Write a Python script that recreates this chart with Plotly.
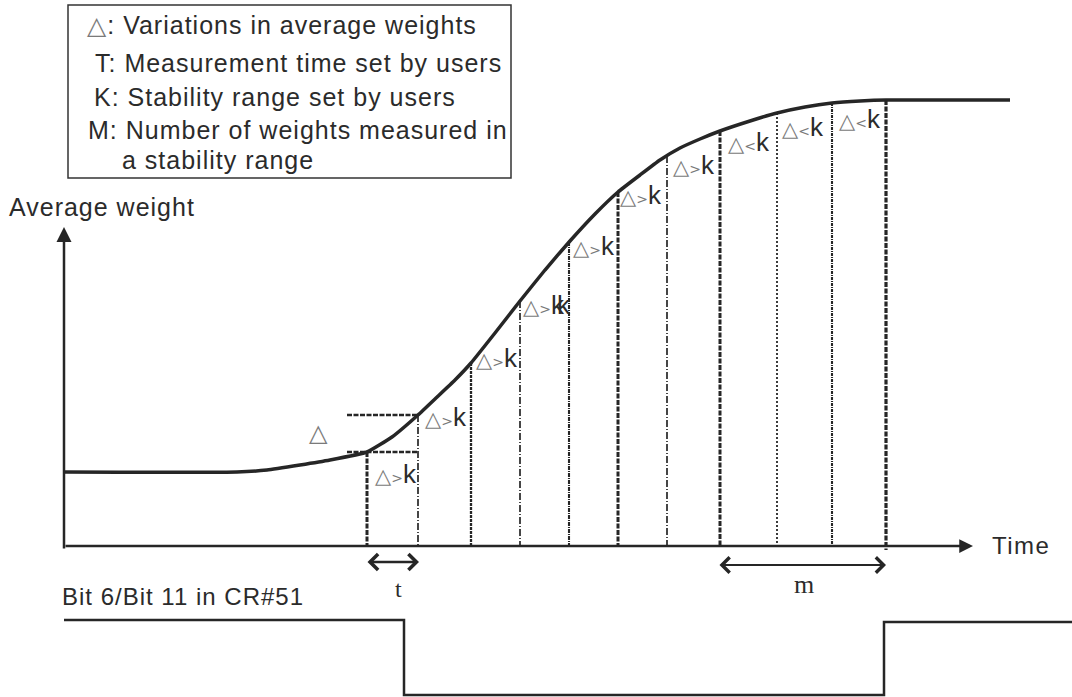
import plotly.graph_objects as go

W, H = 1072, 697

# ---- diagram data (screen-like units: time to the right, weight drawn upward) ----
curve_t = [64, 237, 267, 300, 330, 367, 392, 418, 436, 455, 471, 495, 520, 545, 570, 595,
           618, 640, 660, 680, 700, 720, 750, 777, 805, 832, 860, 886, 1010]
curve_w = [472, 472, 470, 465, 460, 452, 437, 415, 398, 380, 363, 333, 301, 270, 241, 214,
           192, 175, 160, 148, 139, 131, 121, 113, 107, 103, 101, 100, 100]

sample_t = [367, 418, 471, 520, 569, 618, 667, 720, 777, 832, 886]
sample_w = [452, 415, 363, 301, 242, 192, 156, 131, 113, 103, 100]

label_t = [396, 446, 497, 547, 594, 641, 694, 749, 803, 860]
label_w = [474, 417, 358, 305, 246, 195, 165, 142, 127, 119]
label_sign = [">", ">", ">", ">", ">", ">", ">", "<", "<", "<"]

level_w = [452, 415]
level_t = [347, 418]

signal_t = [64, 404, 404, 884, 884, 1072]
signal_v = [620, 620, 695, 695, 622, 622]

axis_t0, axis_w0 = 64, 546
axis_t_tip, axis_w_tip = 973, 227

legend_lines = [
    "<span style='font-family:DejaVu Sans;color:#7a7a7a;font-size:25px'>△</span>: Variations in average weights",
    "T: Measurement time set by users",
    "K: Stability range set by users",
    "M: Number of weights measured in",
    "a stability range",
]
legend_x = [85, 93, 92, 86, 120]
legend_y = [25, 63, 97, 130, 160]

# ---- styles ----
INK = "#262626"
GRAY = "#7a7a7a"
sample_width = [3, 1.7, 2.3, 1.7, 2.1, 3, 1.7, 3, 1.8, 2.1, 3.2]
sample_dash = ["5px,1.5px", "7px,2px,1px,2px", "3px,1px", "7px,2px,1px,2px", "4px,1px,1px,1px",
               "5px,1.5px", "7px,2px,1px,2px", "5px,1.5px", "2px,2px", "3px,1px,1px,1px", "5px,1.5px"]

fig = go.Figure()

# sample (measurement) vertical lines
for t, w, lw, d in zip(sample_t, sample_w, sample_width, sample_dash):
    fig.add_trace(go.Scatter(x=[t, t], y=[w, axis_w0 + (4 if t == sample_t[-1] else 0)],
                             mode="lines", line=dict(color=INK, width=lw, dash=d),
                             hoverinfo="skip"))

# reference level lines
for w in level_w:
    fig.add_trace(go.Scatter(x=level_t, y=[w, w], mode="lines",
                             line=dict(color=INK, width=2.6, dash="5px,1.5px"),
                             hoverinfo="skip"))

# average weight curve
fig.add_trace(go.Scatter(x=curve_t, y=curve_w, mode="lines",
                         line=dict(color=INK, width=3.5, shape="spline", smoothing=0.4),
                         hoverinfo="skip"))

# status bit signal
fig.add_trace(go.Scatter(x=signal_t, y=signal_v, mode="lines",
                         line=dict(color=INK, width=2.5), hoverinfo="skip"))

ann = []
# axes with arrowheads
ann.append(dict(x=axis_t0, y=axis_w_tip, ax=axis_t0, ay=axis_w0 + 4, xref="x", yref="y",
                axref="x", ayref="y", text="", showarrow=True, arrowhead=2,
                arrowsize=1.2, arrowwidth=2.5, arrowcolor=INK))
ann.append(dict(x=axis_t_tip, y=axis_w0, ax=axis_t0, ay=axis_w0, xref="x", yref="y",
                axref="x", ayref="y", text="", showarrow=True, arrowhead=2,
                arrowsize=1.1, arrowwidth=2.5, arrowcolor=INK))

# t and m double arrows
ann.append(dict(x=sample_t[1] + 1, y=562, ax=sample_t[0] - 1, ay=562, xref="x", yref="y",
                axref="x", ayref="y", text="", showarrow=True, arrowhead=4,
                startarrowhead=4, arrowside="end+start", arrowsize=1.2, startarrowsize=1.2,
                arrowwidth=2.6, arrowcolor=INK))
ann.append(dict(x=sample_t[-1], y=565, ax=sample_t[7] - 2, ay=565, xref="x", yref="y",
                axref="x", ayref="y", text="", showarrow=True, arrowhead=4,
                startarrowhead=4, arrowside="end+start", arrowsize=1.5, startarrowsize=1.5,
                arrowwidth=2, arrowcolor=INK))

BASE = dict(family="Liberation Sans, Arial, sans-serif", color="#2b2b2b")

def ls(txt, px=1):
    return f"<span style='letter-spacing:{px}px'>{txt}</span>"

# legend texts
for txt, x, y in zip(legend_lines, legend_x, legend_y):
    ann.append(dict(x=x, y=y, xref="x", yref="y", text=ls(txt), showarrow=False,
                    xanchor="left", yanchor="middle", font=dict(size=25, **BASE)))

ann.append(dict(x=7, y=207, xref="x", yref="y", text=ls("Average weight"), showarrow=False,
                xanchor="left", yanchor="middle", font=dict(size=25, **BASE)))
ann.append(dict(x=990, y=545, xref="x", yref="y", text=ls("Time", 1.5), showarrow=False,
                xanchor="left", yanchor="middle", font=dict(size=24, **BASE)))
ann.append(dict(x=60, y=596, xref="x", yref="y", text=ls("Bit 6/Bit 11 in CR#51"), showarrow=False,
                xanchor="left", yanchor="middle", font=dict(size=24, **BASE)))
ann.append(dict(x=398, y=589, xref="x", yref="y", text="t", showarrow=False,
                xanchor="center", yanchor="middle",
                font=dict(size=24, family="Liberation Serif, Times New Roman, serif", color="#2b2b2b")))
ann.append(dict(x=804, y=584, xref="x", yref="y", text="m", showarrow=False,
                xanchor="center", yanchor="middle",
                font=dict(size=26, family="Liberation Serif, Times New Roman, serif", color="#2b2b2b")))
ann.append(dict(x=318, y=433, xref="x", yref="y", text="△", showarrow=False,
                xanchor="center", yanchor="middle",
                font=dict(size=24, family="DejaVu Sans", color=GRAY)))

# delta vs k labels (the 4th one shows a doubled, overlapping "k" in the original)
for i, (t, w, s) in enumerate(zip(label_t, label_w, label_sign)):
    k_part = ("<span style='font-size:26px;letter-spacing:-7px'>k</span><span style='font-size:26px'>k</span>"
              if i == 3 else "<span style='font-size:26px'>k</span>")
    txt = (f"<span style='font-family:DejaVu Sans;font-size:21px;color:{GRAY}'>△</span>"
           f"<span style='font-family:DejaVu Sans;font-size:14px;color:{GRAY}'>{s}</span>"
           + k_part)
    ann.append(dict(x=t, y=w, xref="x", yref="y", text=txt, showarrow=False,
                    xanchor="center", yanchor="middle", font=dict(size=21, **BASE)))

fig.update_layout(
    width=W, height=H, margin=dict(l=0, r=0, t=0, b=0),
    paper_bgcolor="white", plot_bgcolor="white", showlegend=False,
    xaxis=dict(range=[0, W], visible=False, fixedrange=True),
    yaxis=dict(range=[H, 0], visible=False, fixedrange=True),
    annotations=ann,
    shapes=[dict(type="rect", xref="x", yref="y", x0=68, y0=5, x1=511, y1=178,
                 line=dict(color="#333", width=1.5), fillcolor="rgba(0,0,0,0)")],
)

fig.write_html("out.html", config={"displayModeBar": False},
               post_script="document.body.style.margin='0';")
